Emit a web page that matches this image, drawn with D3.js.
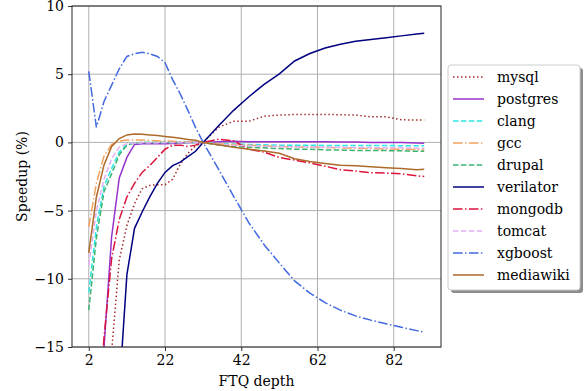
<!DOCTYPE html>
<html>
<head>
<meta charset="utf-8">
<script src="https://cdn.jsdelivr.net/npm/d3@7"></script>
<style>
  body { margin: 0; background: #fff; }
</style>
</head>
<body>
<div id="chart"></div>
<script>
// FTQ depths sampled along the x axis
const depths = [2, 4, 6, 8, 10, 12, 14, 16, 18, 20, 22, 24, 26, 28, 30, 32,
  36, 40, 44, 48, 52, 56, 60, 64, 68, 72, 76, 80, 84, 88, 90];

// speedup (%) per workload, values below -15 are off the chart
const mysql = [-30, -25, -20, -15.3, -8.6, -6.1, -4.5, -3.4, -3.15, -3.1, -3.1, -2.7, -1.6, -0.8, -0.25, 0,
  1.1, 1.55, 1.55, 1.92, 2.0, 2.05, 2.05, 2.05, 2.03, 2.0, 1.88, 1.88, 1.66, 1.64, 1.64];
const postgres = [-30, -25, -15, -6.9, -2.6, -1.1, -0.15, -0.1, -0.1, -0.1, -0.1, -0.08, -0.05, -0.03, 0, 0,
  0.05, 0.08, 0.05, 0.05, 0.05, 0.05, 0.05, 0.05, 0.03, 0.03, 0, 0, 0, -0.05, -0.07];
const clang = [-11.0, -6.2, -3.2, -1.9, -0.7, -0.15, -0.03, 0, 0, 0, 0, 0, 0, 0, 0, 0,
  -0.1, -0.12, -0.15, -0.18, -0.2, -0.2, -0.2, -0.22, -0.22, -0.22, -0.23, -0.23, -0.24, -0.25, -0.25];
const gcc = [-6.2, -3.0, -1.0, -0.15, 0.1, 0.17, 0.18, 0.17, 0.15, 0.12, 0.1, 0.08, 0.05, 0.03, 0.02, 0,
  -0.1, -0.15, -0.2, -0.25, -0.3, -0.32, -0.35, -0.38, -0.4, -0.42, -0.45, -0.48, -0.5, -0.52, -0.55];
const drupal = [-12.3, -7.0, -3.6, -2.3, -0.9, -0.2, -0.05, 0, 0, 0, 0, 0, 0, 0, 0, 0,
  -0.2, -0.3, -0.35, -0.4, -0.45, -0.5, -0.5, -0.55, -0.55, -0.6, -0.6, -0.6, -0.62, -0.65, -0.65];
const verilator = [-40, -34, -28, -23, -18.2, -9.7, -6.3, -5.1, -4.0, -3.0, -2.2, -1.7, -1.45, -1.05, -0.65, 0,
  1.2, 2.35, 3.35, 4.25, 5.03, 5.97, 6.52, 6.92, 7.2, 7.42, 7.55, 7.68, 7.81, 7.94, 8.0];
const mongodb = [-30, -22, -14.3, -8.5, -5.65, -4.0, -3.0, -2.2, -1.7, -1.1, -0.5, -0.2, -0.2, -0.3, -0.2, 0,
  0.23, 0.12, -0.5, -0.72, -1.1, -1.3, -1.5, -1.75, -2.0, -2.1, -2.22, -2.25, -2.3, -2.45, -2.5];
const tomcat = [-9.0, -5.0, -2.7, -1.2, -0.35, -0.1, -0.05, -0.03, -0.02, -0.02, -0.01, -0.01, 0, 0, 0, 0,
  -0.15, -0.2, -0.25, -0.28, -0.3, -0.32, -0.33, -0.35, -0.36, -0.37, -0.38, -0.4, -0.4, -0.42, -0.42];
const xgboost = [5.2, 1.1, 3.0, 4.2, 5.4, 6.3, 6.5, 6.6, 6.5, 6.3, 5.85, 4.6, 3.55, 2.35, 1.1, 0,
  -1.95, -3.95, -5.9, -7.5, -8.85, -10.15, -11.05, -11.75, -12.3, -12.72, -13.03, -13.3, -13.55, -13.8, -13.92];
const mediawiki = [-8.1, -4.0, -1.65, -0.3, 0.28, 0.55, 0.62, 0.6, 0.55, 0.5, 0.43, 0.37, 0.3, 0.22, 0.15, 0,
  -0.17, -0.35, -0.5, -0.63, -0.8, -1.2, -1.4, -1.55, -1.68, -1.72, -1.78, -1.85, -1.92, -2.0, -1.97];

const xTicks = [2, 22, 42, 62, 82];
const yTicks = [10, 5, 0, -5, -10, -15];

const series = [
  { name: 'mysql', values: mysql, color: '#a52a2a', dash: '1.5,2.5' },
  { name: 'postgres', values: postgres, color: '#9932cc', dash: null },
  { name: 'clang', values: clang, color: '#2ee6e6', dash: '5.5,2.4' },
  { name: 'gcc', values: gcc, color: '#f4a460', dash: '9.6,2.4,1.5,2.4' },
  { name: 'drupal', values: drupal, color: '#3cb371', dash: '5.5,2.4' },
  { name: 'verilator', values: verilator, color: '#000080', dash: null },
  { name: 'mongodb', values: mongodb, color: '#dc143c', dash: '9.6,2.4,1.5,2.4' },
  { name: 'tomcat', values: tomcat, color: '#e2b0f2', dash: '5.5,2.4' },
  { name: 'xgboost', values: xgboost, color: '#4169e1', dash: '9.6,2.4,1.5,2.4' },
  { name: 'mediawiki', values: mediawiki, color: '#ad6a2a', dash: null }
];

const FONT = "'DejaVu Serif', 'Liberation Serif', serif";
const width = 584, height = 391;
const margin = { top: 6, right: 143, bottom: 44, left: 72 };
const plotW = width - margin.left - margin.right;
const plotH = height - margin.top - margin.bottom;

const svg = d3.select('#chart').append('svg')
  .attr('width', width)
  .attr('height', height)
  .attr('font-family', FONT);

const g = svg.append('g')
  .attr('transform', `translate(${margin.left},${margin.top})`);

const x = d3.scaleLinear().domain([-2.4, 94.4]).range([0, plotW]);
const y = d3.scaleLinear().domain([-15, 10]).range([plotH, 0]);

// grid
g.append('g').selectAll('line')
  .data(xTicks).enter().append('line')
  .attr('x1', d => x(d)).attr('x2', d => x(d))
  .attr('y1', 0).attr('y2', plotH)
  .attr('stroke', '#b0b0b0').attr('stroke-width', 1);
g.append('g').selectAll('line')
  .data(yTicks).enter().append('line')
  .attr('x1', 0).attr('x2', plotW)
  .attr('y1', d => y(d)).attr('y2', d => y(d))
  .attr('stroke', '#b0b0b0').attr('stroke-width', 1);

// clip lines to the plot area
svg.append('defs').append('clipPath').attr('id', 'plot-clip')
  .append('rect').attr('width', plotW).attr('height', plotH);

const line = d3.line()
  .x((d, i) => x(depths[i]))
  .y(d => y(d));

const lines = g.append('g').attr('clip-path', 'url(#plot-clip)');
series.forEach(s => {
  lines.append('path')
    .datum(s.values)
    .attr('d', line)
    .attr('fill', 'none')
    .attr('stroke', s.color)
    .attr('stroke-width', 1.5)
    .attr('stroke-dasharray', s.dash);
});

// axes
const xAxis = d3.axisBottom(x).tickValues(xTicks).tickSize(4).tickPadding(4);
const yAxis = d3.axisLeft(y).tickValues(yTicks).tickSize(4).tickPadding(4)
  .tickFormat(d => d < 0 ? '\u2212' + Math.abs(d) : d);

g.append('g').attr('transform', `translate(0,${plotH})`).call(xAxis)
  .attr('font-family', FONT).attr('font-size', 14)
  .call(a => a.select('.domain').remove())
  .selectAll('text').attr('fill', '#000');
g.append('g').call(yAxis)
  .attr('font-family', FONT).attr('font-size', 14)
  .call(a => a.select('.domain').remove())
  .selectAll('text').attr('fill', '#000');

g.selectAll('.tick line').attr('stroke', '#000').attr('stroke-width', 0.8);

// frame
g.append('rect')
  .attr('width', plotW).attr('height', plotH)
  .attr('fill', 'none').attr('stroke', '#222').attr('stroke-width', 1);

// axis titles
svg.append('text')
  .attr('x', margin.left + plotW / 2).attr('y', 386)
  .attr('text-anchor', 'middle')
  .attr('font-size', 14)
  .text('FTQ depth');
svg.append('text')
  .attr('transform', `translate(27,${margin.top + plotH / 2}) rotate(-90)`)
  .attr('text-anchor', 'middle')
  .attr('font-size', 14)
  .text('Speedup (%)');

// legend with shadow
const legend = svg.append('g').attr('transform', 'translate(448,65)');
const legW = 132, legH = 225, rowH = 22;
legend.append('rect')
  .attr('x', 3).attr('y', 3).attr('width', legW).attr('height', legH)
  .attr('rx', 3).attr('fill', '#000').attr('opacity', 0.45);
legend.append('rect')
  .attr('width', legW).attr('height', legH)
  .attr('rx', 3).attr('fill', '#fff').attr('stroke', '#cccccc');

const rows = legend.selectAll('.row')
  .data(series).enter().append('g')
  .attr('transform', (d, i) => `translate(0,${12 + i * rowH})`);
rows.append('line')
  .attr('x1', 5).attr('x2', 36)
  .attr('stroke', d => d.color)
  .attr('stroke-width', 1.5)
  .attr('stroke-dasharray', d => d.dash);
rows.append('text')
  .attr('x', 49).attr('y', 5)
  .attr('font-size', 14)
  .text(d => d.name);
</script>
</body>
</html>
